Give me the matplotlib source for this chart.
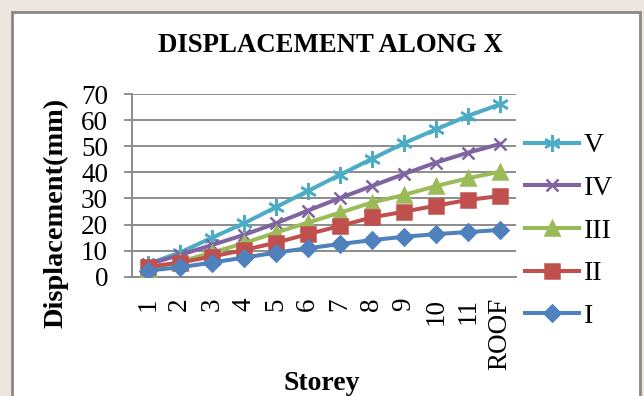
import matplotlib
matplotlib.use("Agg")
import matplotlib.pyplot as plt
from matplotlib.patches import Rectangle
import numpy as np

# data
storeys = ["1", "2", "3", "4", "5", "6", "7", "8", "9", "10", "11", "ROOF"]
disp_I = [2.3, 3.6, 5.4, 7.3, 9.2, 10.9, 12.5, 14.0, 15.3, 16.3, 17.1, 17.9]
disp_II = [3.8, 5.4, 7.7, 10.2, 13.0, 16.3, 19.4, 22.7, 24.9, 27.2, 29.4, 30.9]
disp_III = [2.8, 5.7, 9.2, 12.8, 16.9, 20.7, 24.5, 28.4, 31.3, 34.7, 37.7, 40.2]
disp_IV = [4.7, 8.3, 12.1, 16.0, 20.4, 25.3, 30.1, 34.7, 39.3, 43.7, 47.5, 50.8]
disp_V = [4.9, 9.2, 14.9, 20.4, 26.6, 32.8, 39.0, 45.1, 51.1, 56.4, 61.6, 66.0]

series = [
    ("V", disp_V, "#4BACC6", (6, 2, 0), 12),
    ("IV", disp_IV, "#8064A2", "x", 9),
    ("III", disp_III, "#9BBB59", "^", 10),
    ("II", disp_II, "#C0504D", "s", 10.5),
    ("I", disp_I, "#4F81BD", "D", 8.5),
]

plt.rcParams["font.family"] = ["Liberation Serif", "DejaVu Serif"]

fig = plt.figure(figsize=(6.44, 3.96), dpi=100)
fig.patch.set_facecolor("#EDE6E0")

# white chart area with grey border
fig.add_artist(Rectangle((12 / 644, -0.1), 628 / 644, 1.1 - 12 / 396,
                         transform=fig.transFigure, facecolor="white",
                         edgecolor="#888888", linewidth=2, zorder=0))

ax = fig.add_axes([131.7 / 644, 1 - 276.7 / 396, 384 / 644, 182.7 / 396])
ax.set_facecolor("white")

x = np.arange(len(storeys))
for name, vals, col, mk, ms in series:
    ax.plot(x, vals, color=col, lw=2.9, marker=mk, markersize=ms,
            markeredgecolor=col, markerfacecolor=col, markeredgewidth=1.8,
            label=name, zorder=3)

ax.set_xlim(-0.5, len(storeys) - 0.5)
ax.set_ylim(0, 70)
ax.set_yticks(np.arange(0, 71, 10))
ax.set_xticks(x)
ax.set_xticklabels(storeys, rotation=90, fontsize=19.5, va="top")
ax.tick_params(axis="y", labelsize=19.5, length=6, width=1.3, color="#888888", pad=11)
ax.tick_params(axis="x", length=0, pad=15)
ax.grid(axis="y", color="#8C8C8C", linewidth=1.4, zorder=1)
for s in ["top", "right"]:
    ax.spines[s].set_visible(False)
ax.spines["left"].set_color("#8C8C8C")
ax.spines["left"].set_linewidth(1.4)
ax.spines["bottom"].set_color("#8C8C8C")
ax.spines["bottom"].set_linewidth(1.4)

fig.text(330 / 644, 1 - 45 / 396, "DISPLACEMENT ALONG X", ha="center",
         va="center", fontsize=19.3, fontweight="bold")
fig.text(322 / 644, 1 - 384 / 396, "Storey", ha="center", va="center",
         fontsize=20, fontweight="bold")
fig.text(56 / 644, 1 - 213 / 396, "Displacement(mm)", ha="center",
         va="center", rotation=90, fontsize=20.4, fontweight="bold")

ax.legend(loc="center left", bbox_to_anchor=(525 / 644, 1 - 231 / 396),
          bbox_transform=fig.transFigure, frameon=False, fontsize=20,
          handlelength=1.95, labelspacing=0.62, handletextpad=0.18,
          borderaxespad=0, borderpad=0)

fig.savefig("out.png", dpi=100, facecolor=fig.get_facecolor())
